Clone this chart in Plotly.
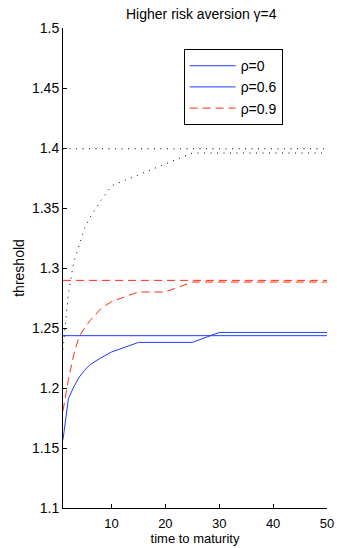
import plotly.graph_objects as go

# Time to maturity grid
maturity = [1, 2, 3, 4, 5, 6, 8, 10, 15, 20, 25, 30, 35, 40, 45, 50]

# Threshold curves
blue_curve = [1.157, 1.191, 1.201, 1.209, 1.2147, 1.2194, 1.225, 1.230, 1.238, 1.238, 1.238,
              1.2463, 1.2463, 1.2463, 1.2463, 1.2463]
red_curve = [1.181, 1.207, 1.228, 1.243, 1.250, 1.256, 1.266, 1.272, 1.280, 1.280, 1.2883,
             1.2883, 1.2883, 1.2883, 1.2883, 1.2883]
black_curve = [1.232, 1.279, 1.305, 1.320, 1.333, 1.342, 1.356, 1.3685, 1.3778, 1.387, 1.3958,
               1.3958, 1.3958, 1.3958, 1.3958, 1.3958]

# Horizontal (limit) levels
limit_x = [1, 50]
blue_limit = [1.2436, 1.2436]
red_limit = [1.2897, 1.2897]
black_limit = [1.3994, 1.3994]

legend_labels = ["ρ=0", "ρ=0.6", "ρ=0.9"]

y_ticks = [1.1, 1.15, 1.2, 1.25, 1.3, 1.35, 1.4, 1.45, 1.5]
y_tick_text = ["1.1", "1.15", "1.2", "1.25", "1.3", "1.35", "1.4", "1.45", "1.5"]
x_ticks = [10, 20, 30, 40, 50]

BLUE = "rgb(30,60,255)"
RED = "rgb(255,45,15)"
BLACK = "rgb(0,0,0)"

fig = go.Figure()
fig.add_trace(go.Scatter(x=limit_x, y=blue_limit, mode="lines", name=legend_labels[0],
                         line=dict(color=BLUE, width=1)))
fig.add_trace(go.Scatter(x=maturity, y=blue_curve, mode="lines", name=legend_labels[1],
                         line=dict(color=BLUE, width=1)))
fig.add_trace(go.Scatter(x=limit_x, y=red_limit, mode="lines", name=legend_labels[2],
                         line=dict(color=RED, width=1, dash="8px,5px")))
fig.add_trace(go.Scatter(x=maturity, y=red_curve, mode="lines", showlegend=False,
                         line=dict(color=RED, width=1, dash="8px,5px")))
fig.add_trace(go.Scatter(x=limit_x, y=black_limit, mode="lines", showlegend=False,
                         line=dict(color=BLACK, width=1, dash="1px,5.5px")))
fig.add_trace(go.Scatter(x=maturity, y=black_curve, mode="lines", showlegend=False,
                         line=dict(color=BLACK, width=1, dash="1px,5.5px")))

font_family = "Liberation Sans, Arial, Helvetica, sans-serif"

fig.update_layout(
    width=337, height=548,
    margin=dict(l=63, r=10, t=28, b=40),
    paper_bgcolor="white", plot_bgcolor="white",
    font=dict(family=font_family, size=14, color="black"),
    showlegend=True,
    legend=dict(x=0.457, y=0.956, xanchor="left", yanchor="top",
                bordercolor="black", borderwidth=1, bgcolor="white",
                font=dict(size=14), itemwidth=46, tracegroupgap=0),
    annotations=[
        dict(text="Higher risk aversion γ=4", x=0.526, y=1, xref="paper", yref="paper",
             yshift=14, xanchor="center", yanchor="middle", showarrow=False,
             font=dict(size=14)),
    ],
)
fig.update_xaxes(
    range=[1, 50], tickvals=x_ticks, ticks="inside", ticklen=4, tickcolor="black",
    showline=True, linecolor="black", linewidth=1, mirror=False, showgrid=False,
    zeroline=False, title=dict(text="time to maturity", standoff=2, font=dict(size=13)),
    tickfont=dict(size=13), ticklabelstandoff=3, automargin=False,
)
fig.update_yaxes(
    range=[1.1, 1.5], tickvals=y_ticks, ticktext=y_tick_text, ticks="inside", ticklen=4,
    tickcolor="black", showline=True, linecolor="black", linewidth=1, mirror=False,
    showgrid=False, zeroline=False, title=dict(text="threshold", standoff=4, font=dict(size=14)),
    tickfont=dict(size=14), automargin=False,
)

fig.write_html(
    "out.html",
    config={"displayModeBar": False},
    post_script="document.body.style.margin='0';document.body.style.overflow='hidden';",
)
